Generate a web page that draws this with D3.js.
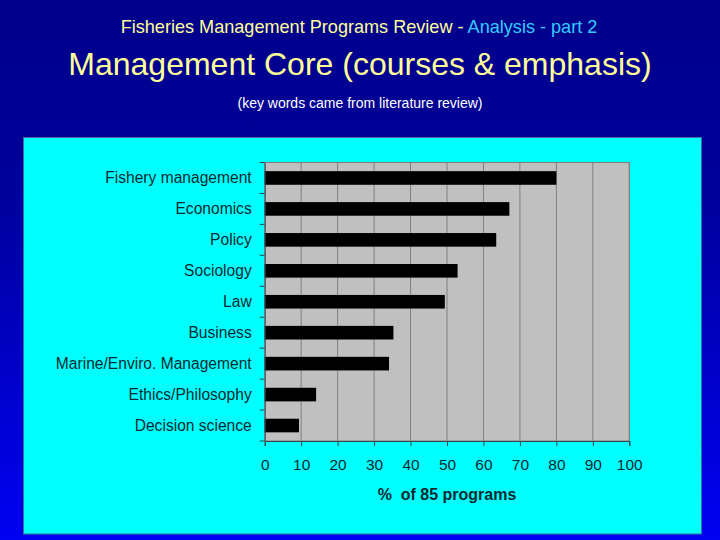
<!DOCTYPE html>
<html>
<head>
<meta charset="utf-8">
<script src="https://cdn.jsdelivr.net/npm/d3@7"></script>
<style>
  body { margin: 0; padding: 0; overflow: hidden; }
  svg { display: block; }
</style>
</head>
<body>
<svg id="vis"></svg>
<script>
const WIDTH = 720;
const HEIGHT = 540;

// chart data: % of 85 programs
const categories = ["Fishery management", "Economics", "Policy", "Sociology", "Law",
    "Business", "Marine/Enviro. Management", "Ethics/Philosophy", "Decision science"];
const percents = [80.0, 67.1, 63.5, 52.9, 49.4, 35.3, 34.1, 14.1, 9.4];
const xTicks = [0, 10, 20, 30, 40, 50, 60, 70, 80, 90, 100];

const PLOT = {left: 264.7, right: 629.3, top: 162.5, bottom: 441};
const FONT = "Liberation Sans, Arial, sans-serif";

function setupVis() {
    let svg = d3.select("#vis")
        .attr("width", WIDTH)
        .attr("height", HEIGHT);

    // slide background gradient
    let defs = svg.append("defs");
    let grad = defs.append("linearGradient")
        .attr("id", "bg")
        .attr("x1", 0).attr("y1", 0).attr("x2", 0).attr("y2", 1);
    grad.append("stop").attr("offset", "0%").attr("stop-color", "#00008a");
    grad.append("stop").attr("offset", "35%").attr("stop-color", "#00009c");
    grad.append("stop").attr("offset", "100%").attr("stop-color", "#0000f2");

    svg.append("rect")
        .attr("width", WIDTH).attr("height", HEIGHT)
        .attr("fill", "url(#bg)");

    // titles
    let t1 = svg.append("text")
        .attr("x", 359).attr("y", 33)
        .attr("text-anchor", "middle")
        .style("font-family", FONT)
        .style("font-size", "18.1px");
    t1.append("tspan").attr("fill", "#ffff99").text("Fisheries Management Programs Review - ");
    t1.append("tspan").attr("fill", "#33ccff").text("Analysis - part 2");

    svg.append("text")
        .attr("x", 360).attr("y", 75)
        .attr("text-anchor", "middle")
        .attr("fill", "#ffff99")
        .style("font-family", FONT)
        .style("font-size", "32px")
        .text("Management Core (courses & emphasis)");

    svg.append("text")
        .attr("x", 360).attr("y", 108)
        .attr("text-anchor", "middle")
        .attr("fill", "#ffffff")
        .style("font-family", FONT)
        .style("font-size", "14px")
        .text("(key words came from literature review)");

    // chart panel
    svg.append("rect")
        .attr("x", 23.5).attr("y", 137.5)
        .attr("width", 678).attr("height", 396.5)
        .attr("fill", "#00ffff")
        .attr("stroke", "#3a6ea0")
        .attr("stroke-width", 1);

    let x = d3.scaleLinear()
        .domain([0, 100])
        .range([PLOT.left, PLOT.right]);

    let y = d3.scaleBand()
        .domain(categories)
        .range([PLOT.top, PLOT.bottom])
        .paddingInner(0.56)
        .paddingOuter(0.28);

    let yGrid = d3.scaleBand()
        .domain(categories)
        .range([PLOT.top, PLOT.bottom]);

    // plot background
    svg.append("rect")
        .attr("x", PLOT.left).attr("y", PLOT.top)
        .attr("width", PLOT.right - PLOT.left)
        .attr("height", PLOT.bottom - PLOT.top)
        .attr("fill", "#c0c0c0");

    // vertical gridlines
    svg.append("g")
        .selectAll("line")
        .data(xTicks.slice(1))
        .enter()
        .append("line")
        .attr("x1", d => x(d)).attr("x2", d => x(d))
        .attr("y1", PLOT.top).attr("y2", PLOT.bottom)
        .attr("stroke", "#808080")
        .attr("stroke-width", 1);

    svg.append("rect")
        .attr("x", PLOT.left).attr("y", PLOT.top)
        .attr("width", PLOT.right - PLOT.left)
        .attr("height", PLOT.bottom - PLOT.top)
        .attr("fill", "none")
        .attr("stroke", "#808080");

    // bars
    svg.append("g")
        .selectAll("rect")
        .data(categories)
        .enter()
        .append("rect")
        .attr("x", x(0))
        .attr("y", d => y(d))
        .attr("width", (d, i) => x(percents[i]) - x(0))
        .attr("height", y.bandwidth())
        .attr("fill", "#000000");

    // x axis
    let xAxis = d3.axisBottom(x)
        .tickValues(xTicks)
        .tickSize(5)
        .tickPadding(13);
    let gx = svg.append("g")
        .attr("transform", "translate(0," + PLOT.bottom + ")")
        .call(xAxis);
    gx.select(".domain").attr("stroke", "#2a4a50");
    gx.selectAll(".tick line").attr("stroke", "#2a4a50");
    gx.selectAll(".tick text")
        .attr("fill", "#0a2a30")
        .style("font-family", FONT)
        .style("font-size", "15.5px");

    // y axis: ticks at band boundaries, labels centred
    let yAxis = d3.axisLeft(yGrid)
        .tickSize(0)
        .tickPadding(13);
    let gy = svg.append("g")
        .attr("transform", "translate(" + PLOT.left + ",0)")
        .call(yAxis);
    gy.select(".domain").attr("stroke", "#2a4a50");
    gy.selectAll(".tick text")
        .attr("fill", "#0a2a30")
        .style("font-family", FONT)
        .style("font-size", "15.6px");

    gy.selectAll(".bound")
        .data(categories)
        .enter()
        .append("line")
        .attr("x1", -5).attr("x2", 0)
        .attr("y1", d => yGrid(d)).attr("y2", d => yGrid(d))
        .attr("stroke", "#2a4a50");
    gy.append("line")
        .attr("x1", -5).attr("x2", 0)
        .attr("y1", PLOT.bottom).attr("y2", PLOT.bottom)
        .attr("stroke", "#2a4a50");

    // axis title
    svg.append("text")
        .attr("x", 447).attr("y", 500)
        .attr("text-anchor", "middle")
        .attr("fill", "#0a2a30")
        .style("font-family", FONT)
        .style("font-size", "16px")
        .style("font-weight", "bold")
        .style("white-space", "pre")
        .text("%  of 85 programs");
}

setupVis();
</script>
</body>
</html>
